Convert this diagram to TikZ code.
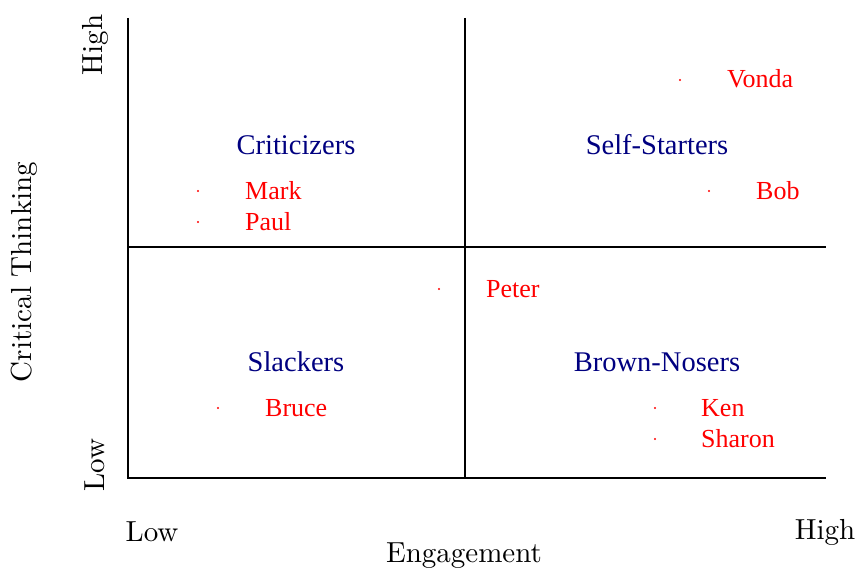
\documentclass[tikz,border=0pt]{standalone}
\usepackage{fontspec}
\newfontfamily\tms{Liberation Serif}
\newfontfamily\lmten[Extension=.otf]{lmroman10-regular}
\begin{document}
\begin{tikzpicture}[x=1pt,y=-1pt,
  axis/.style={line width=1.3pt,black},
  lbl/.style={font=\lmten\fontsize{29}{33}\selectfont,black,inner sep=0pt},
  quad/.style={font=\tms\fontsize{28.5}{32}\selectfont,color={rgb,255:red,0;green,0;blue,128},inner sep=0pt},
  who/.style={font=\tms\fontsize{26}{30}\selectfont,red,inner sep=0pt,anchor=west},
  pt/.style={circle,fill=red,inner sep=0pt,minimum size=2.4pt}]
\useasboundingbox (0,0) rectangle (859,572);
% axes
\coordinate (tl) at (128,18);
\coordinate (bl) at (128,478);
\coordinate (br) at (826,478);
\coordinate (mt) at (465,18);
\coordinate (mb) at (465,478);
\coordinate (ml) at (128,247);
\coordinate (mr) at (826,247);
\draw[axis] (tl) -- (bl) -- (br);
\draw[axis] (mt) -- (mb);
\draw[axis] (ml) -- (mr);
% axis labels
\node[lbl,rotate=90] (yhigh) at (95,45) {High};
\node[lbl,rotate=90] (ylow) at (95,465) {Low};
\node[lbl,rotate=90] (ytitle) at (24,272) {Critical Thinking};
\node[lbl] (xlow) at (152,532) {Low};
\node[lbl] (xhigh) at (825,532) {High};
\node[lbl] (xtitle) at (464,556) {Engagement};
% quadrants
\node[quad] (q1) at (296,145) {Criticizers};
\node[quad] (q2) at (657,145) {Self-Starters};
\node[quad] (q3) at (296,362) {Slackers};
\node[quad] (q4) at (657,362) {Brown-Nosers};
% people
\node[pt] (dv) at (680,80) {};   \node[who] (tv) at (727,79) {Vonda};
\node[pt] (dm) at (198,191) {};  \node[who] (tm) at (245,191) {Mark};
\node[pt] (dp) at (198,222) {};  \node[who] (tp) at (245,222) {Paul};
\node[pt] (db) at (709,191) {};  \node[who] (tb) at (756,191) {Bob};
\node[pt] (dpe) at (439,289) {}; \node[who] (tpe) at (486,289) {Peter};
\node[pt] (dbr) at (218,408) {}; \node[who] (tbr) at (265,408) {Bruce};
\node[pt] (dk) at (655,408) {};  \node[who] (tk) at (701,408) {Ken};
\node[pt] (ds) at (655,439) {};  \node[who] (ts) at (701,439) {Sharon};
\end{tikzpicture}
\end{document}
